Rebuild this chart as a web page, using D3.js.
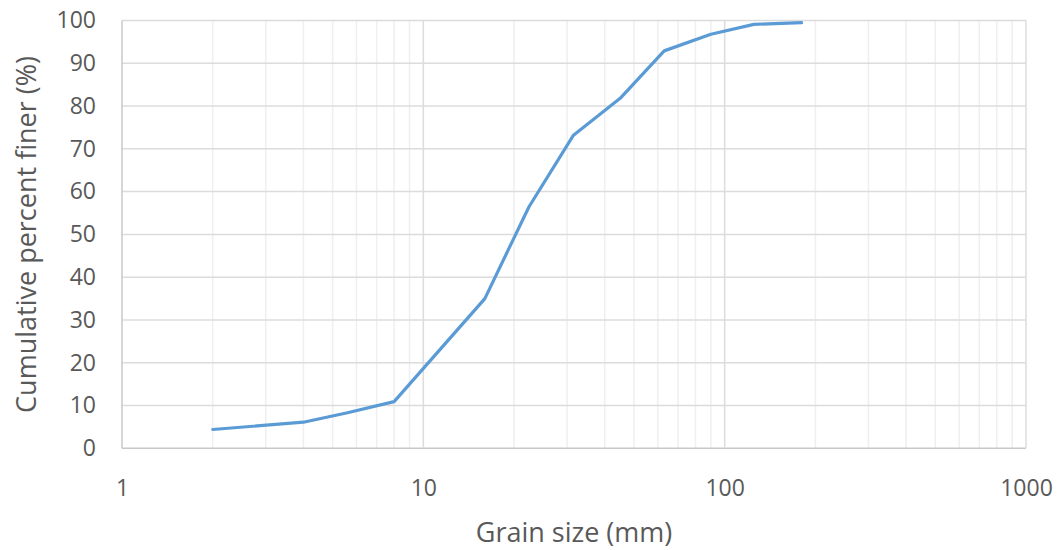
<!DOCTYPE html>
<html><head><meta charset="utf-8">
<script src="https://cdn.jsdelivr.net/npm/d3@7"></script>
<style>body{margin:0;background:#fff}svg{display:block}</style>
</head><body>
<svg id="chart" width="1062" height="550"></svg>
<script>
const grainSize = [2, 4, 5.6, 8, 16, 22.4, 31.5, 45, 63, 90, 125, 180];
const percentFiner = [4.4, 6.1, 8.3, 10.9, 35.0, 56.4, 73.2, 81.8, 92.9, 96.8, 99.1, 99.5];
const xTicks = [1, 10, 100, 1000];
const yTicks = [0, 10, 20, 30, 40, 50, 60, 70, 80, 90, 100];
const xTitle = "Grain size (mm)";
const yTitle = "Cumulative percent finer (%)";

const svg = d3.select("#chart");
const m = {left: 122, right: 1026, top: 20.5, bottom: 448.3};
const x = d3.scaleLog().domain([1, 1000]).range([m.left, m.right]);
const y = d3.scaleLinear().domain([0, 100]).range([m.bottom, m.top]);
const font = "'Open Sans', sans-serif";

// minor vertical grid
const minor = [];
for (let d = 1; d < 1000; d *= 10) for (let k = 2; k <= 9; k++) minor.push(d * k);
svg.append("g").selectAll("line").data(minor).join("line")
  .attr("x1", d => x(d)).attr("x2", d => x(d))
  .attr("y1", m.top).attr("y2", m.bottom)
  .attr("stroke", "#efefef").attr("stroke-width", 1.5);
// horizontal grid
svg.append("g").selectAll("line").data(yTicks).join("line")
  .attr("x1", m.left).attr("x2", m.right)
  .attr("y1", d => y(d)).attr("y2", d => y(d))
  .attr("stroke", d => d === 0 ? "#c8c8c8" : "#dcdcdc").attr("stroke-width", 1.5);
// major vertical grid
svg.append("g").selectAll("line").data(xTicks).join("line")
  .attr("x1", d => x(d)).attr("x2", d => x(d))
  .attr("y1", m.top).attr("y2", m.bottom)
  .attr("stroke", d => d === 1 ? "#c8c8c8" : "#dcdcdc").attr("stroke-width", 1.5);

// axes labels via d3 axes
const xAxis = svg.append("g").attr("transform", `translate(0,${m.bottom})`)
  .call(d3.axisBottom(x).tickValues(xTicks).tickFormat(d3.format("d")).tickSize(0).tickPadding(31));
const yAxis = svg.append("g").attr("transform", `translate(${m.left},0)`)
  .call(d3.axisLeft(y).tickValues(yTicks).tickSize(0).tickPadding(26));
[xAxis, yAxis].forEach(a => {
  a.select(".domain").remove();
  a.selectAll("text").attr("fill", "#595959").style("font-family", font).style("font-size", "23px");
});

// line
svg.append("path")
  .datum(grainSize.map((g, i) => [g, percentFiner[i]]))
  .attr("fill", "none").attr("stroke", "#5b9bd5").attr("stroke-width", 3.2)
  .attr("stroke-linejoin", "round").attr("stroke-linecap", "round")
  .attr("d", d3.line().x(d => x(d[0])).y(d => y(d[1])));

// titles
svg.append("text").attr("x", 574).attr("y", 542)
  .attr("text-anchor", "middle").attr("fill", "#595959")
  .style("font-family", font).style("font-size", "27px").text(xTitle);
svg.append("text").attr("transform", `translate(36,${(m.top + m.bottom) / 2}) rotate(-90)`)
  .attr("text-anchor", "middle").attr("fill", "#595959")
  .style("font-family", font).style("font-size", "27px").text(yTitle);
</script>
</body></html>
